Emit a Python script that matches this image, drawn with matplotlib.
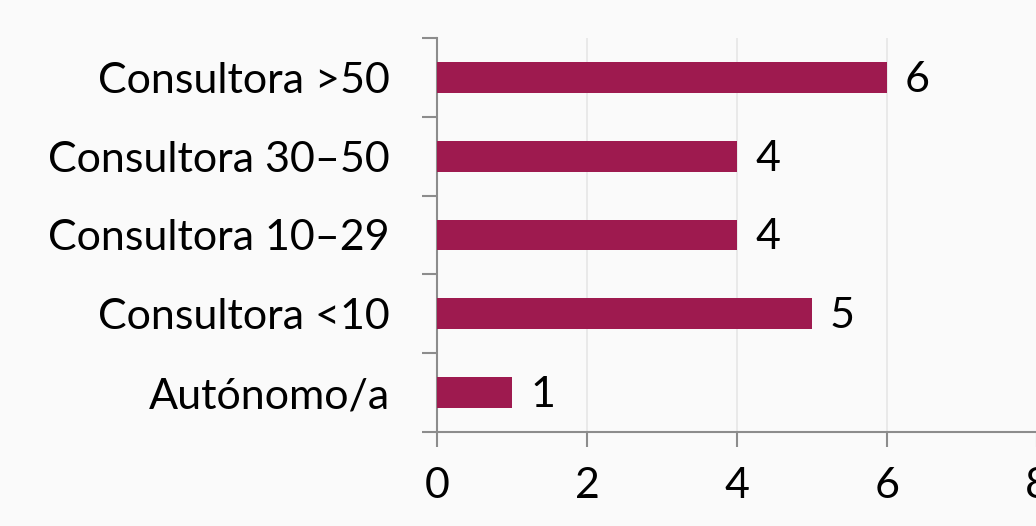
import matplotlib.pyplot as plt
import numpy as np

plt.rcParams['font.family'] = ['Lato', 'DejaVu Sans']

categories = ["Consultora >50", "Consultora 30–50", "Consultora 10–29", "Consultora <10", "Autónomo/a"]
counts = [6, 4, 4, 5, 1]
xticks = [0, 2, 4, 6, 8]

bar_color = '#9E1A4F'
axis_color = '#8C8C8C'
bg = '#FAFAFA'

fig = plt.figure(figsize=(10.36, 5.26), dpi=100, facecolor=bg)
ax = fig.add_axes([437 / 1036, 1 - 432 / 526, 600 / 1036, 394 / 526], facecolor=bg)

y = np.arange(len(categories))[::-1]
ax.barh(y, counts, height=0.39, color=bar_color, zorder=3)
for yi, v in zip(y, counts):
    ax.text(v + 0.24, yi - 0.03, str(v), va='center', ha='left', fontsize=31, color='black')

ax.set_xlim(0, 8)
ax.set_ylim(-0.5, len(categories) - 0.5)
ax.set_xticks(xticks)
ax.set_xticklabels([str(t) for t in xticks])
ax.set_yticks(y)
ax.set_yticklabels(categories)
ax.set_yticks(np.arange(-0.5, len(categories), 1.0), minor=True)

ax.tick_params(axis='y', which='major', length=0, pad=34, labelsize=31)
ax.tick_params(axis='y', which='minor', length=11, width=1.5, color=axis_color, direction='out')
ax.tick_params(axis='x', which='major', length=11, width=1.5, color=axis_color,
               direction='out', pad=14, labelsize=31)

ax.grid(axis='x', color='#E6E6E6', linewidth=1.2, zorder=0)
for s in ['top', 'right']:
    ax.spines[s].set_visible(False)
for s in ['left', 'bottom']:
    ax.spines[s].set_color(axis_color)
    ax.spines[s].set_linewidth(1.5)

plt.savefig('out.png', dpi=100, facecolor=bg)
